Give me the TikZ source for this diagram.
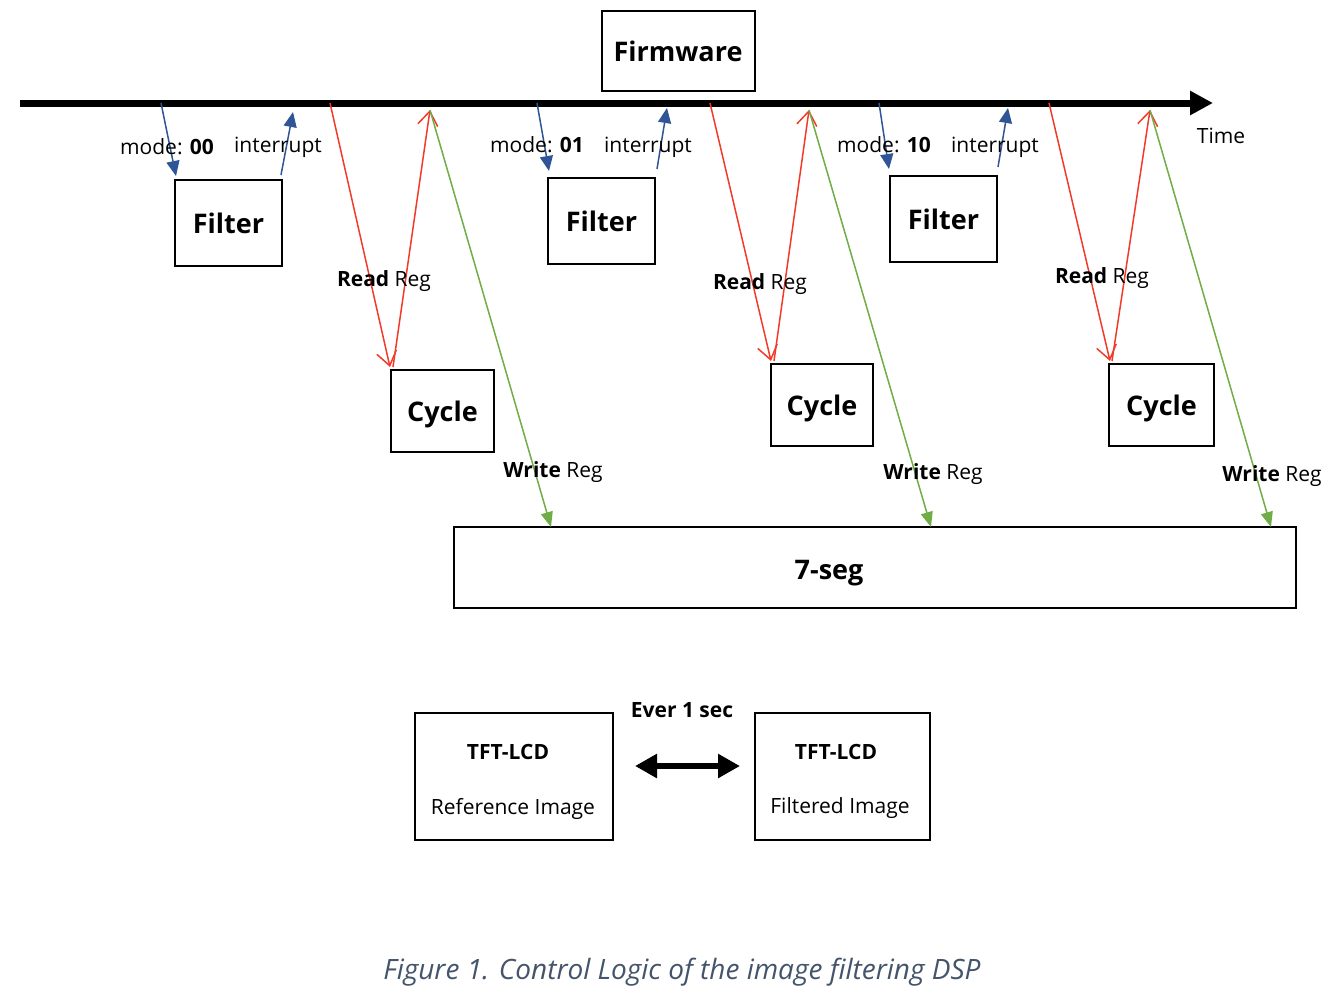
\documentclass[tikz,border=0pt]{standalone}
\usepackage{fontspec}
\setmainfont{Open Sans}
\usetikzlibrary{arrows.meta, positioning}
\definecolor{modeblue}{HTML}{2F5597}
\definecolor{readred}{HTML}{F23A2A}
\definecolor{writegreen}{HTML}{70AD47}
\definecolor{captiongray}{HTML}{44546A}

\tikzset{
  blockbox/.style={draw, line width=2pt, inner sep=0pt, text depth=0pt,
    font=\fontsize{27}{30}\selectfont\bfseries},
  lbl/.style={inner sep=0pt, text depth=0pt, font=\fontsize{21}{24}\selectfont},
  modearrow/.style={modeblue, line width=1.5pt, -{Triangle[length=15pt,width=13pt]}},
  readarrow/.style={readred, line width=1.5pt, -{Straight Barb[length=14pt,width=20pt]}},
  writearrow/.style={writegreen, line width=1.5pt, -{Triangle[length=15pt,width=12pt]}},
}

\begin{document}
\begin{tikzpicture}[x=1pt, y=-1pt]
  \useasboundingbox (0,0) rectangle (1336,1004);
  % Time axis
  \coordinate (t0) at (20,103);
  \coordinate (tend) at (1213,103);
  \draw [line width=7pt, -{Triangle[length=23pt,width=23pt]}] (t0) -- (tend);
  \node [lbl] (time) at (1221,136) {Time};
  \node [blockbox, minimum width=153pt, minimum height=80pt] (fw) at (678,51) {Firmware};
  % Filter, Cycle and 7-seg boxes
  \node [blockbox, minimum width=107pt, minimum height=86pt] (f1) at (228.5,223) {Filter};
  \node [blockbox, minimum width=107pt, minimum height=86pt] (f2) at (601.5,221) {Filter};
  \node [blockbox, minimum width=107pt, minimum height=86pt] (f3) at (943.5,219) {Filter};
  \node [blockbox, minimum width=103pt, minimum height=82pt] (c1) at (442.5,411) {Cycle};
  \node [blockbox, minimum width=102pt, minimum height=82pt] (c2) at (822,405) {Cycle};
  \node [blockbox, minimum width=105pt, minimum height=82pt] (c3) at (1161.5,405) {Cycle};
  \node [blockbox, minimum width=842pt, minimum height=81pt] (seg) at (875,567.5) {};
  \node [lbl, font=\fontsize{27}{30}\selectfont\bfseries] (segtext) at (829,570) {7-seg};
  % Points on the time axis
  \coordinate (m1) at (161,103);
  \coordinate (m2) at (537,103);
  \coordinate (m3) at (879,103);
  \coordinate (i1) at (293,112);
  \coordinate (i2) at (667,108);
  \coordinate (i3) at (1008,108);
  \coordinate (r1) at (330,103);
  \coordinate (r2) at (710,103);
  \coordinate (r3) at (1049,103);
  \coordinate (w1) at (430,110);
  \coordinate (w2) at (809,110);
  \coordinate (w3) at (1150,110);
  \coordinate (s1) at (551,527);
  \coordinate (s2) at (931,527);
  \coordinate (s3) at (1271,527);
  % Mode and interrupt
  \draw [modearrow] (m1) -- ([shift={(2,-3)}]f1.north west);
  \draw [modearrow] ([shift={(-2,-4)}]f1.north east) -- (i1);
  \draw [modearrow] (m2) -- ([shift={(2,-6)}]f2.north west);
  \draw [modearrow] ([shift={(1,-8)}]f2.north east) -- (i2);
  \draw [modearrow] (m3) -- ([shift={(0,-6)}]f3.north west);
  \draw [modearrow] ([shift={(0,-8)}]f3.north east) -- (i3);
  \node [lbl] (mode1) at (167,147) {mode: \textbf{00}};
  \node [lbl] (int1) at (278,145) {interrupt};
  \node [lbl] (mode2) at (537,145) {mode: \textbf{01}};
  \node [lbl] (int2) at (648,145) {interrupt};
  \node [lbl] (mode3) at (884,145) {mode: \textbf{10}};
  \node [lbl] (int3) at (995,145) {interrupt};
  % Read and write
  \draw [readarrow] (r1) -- ([shift={(0,-2)}]c1.north west);
  \draw [readarrow] ([shift={(3,-2)}]c1.north west) -- (w1);
  \draw [writearrow] (w1) -- (s1);
  \draw [readarrow] (r2) -- ([shift={(1,-2)}]c2.north west);
  \draw [readarrow] ([shift={(4,-2)}]c2.north west) -- (w2);
  \draw [writearrow] (w2) -- (s2);
  \draw [readarrow] (r3) -- ([shift={(2,-2)}]c3.north west);
  \draw [readarrow] ([shift={(4,-2)}]c3.north west) -- (w3);
  \draw [writearrow] (w3) -- (s3);
  \node [lbl] (read1) at (384,279) {\textbf{Read} Reg};
  \node [lbl] (read2) at (760,282) {\textbf{Read} Reg};
  \node [lbl] (read3) at (1102,276) {\textbf{Read} Reg};
  \node [lbl] (write1) at (553,470) {\textbf{Write} Reg};
  \node [lbl] (write2) at (933,472) {\textbf{Write} Reg};
  \node [lbl] (write3) at (1272,474) {\textbf{Write} Reg};
  % TFT-LCD
  \node [draw, line width=2pt, minimum width=198pt, minimum height=127pt] (lcdref) at (514,776.5) {};
  \node [lbl, font=\fontsize{21}{24}\selectfont\bfseries] (reftitle) at (508,752) {TFT-LCD};
  \node [lbl] (refsub) at (513,806) {Reference Image};
  \node [draw, line width=2pt, minimum width=175pt, minimum height=127pt] (lcdflt) at (842.5,776.5) {};
  \node [lbl, font=\fontsize{21}{24}\selectfont\bfseries] (flttitle) at (836,752) {TFT-LCD};
  \node [lbl] (fltsub) at (840,806) {Filtered Image};
  \draw [line width=6pt, {Triangle[length=22pt,width=23pt]}-{Triangle[length=22pt,width=23pt]},
    shorten <=21pt, shorten >=14pt] ([yshift=10.5pt]lcdref.east) -- ([yshift=10.5pt]lcdflt.west);
  \node [lbl, font=\fontsize{21}{24}\selectfont\bfseries] (every) at (682,710) {Ever 1 sec};
  \node [lbl, text=captiongray, font=\fontsize{28}{32}\selectfont\itshape] (caption) at (682,969)
    {Figure 1. Control Logic of the image filtering DSP};
\end{tikzpicture}
\end{document}
